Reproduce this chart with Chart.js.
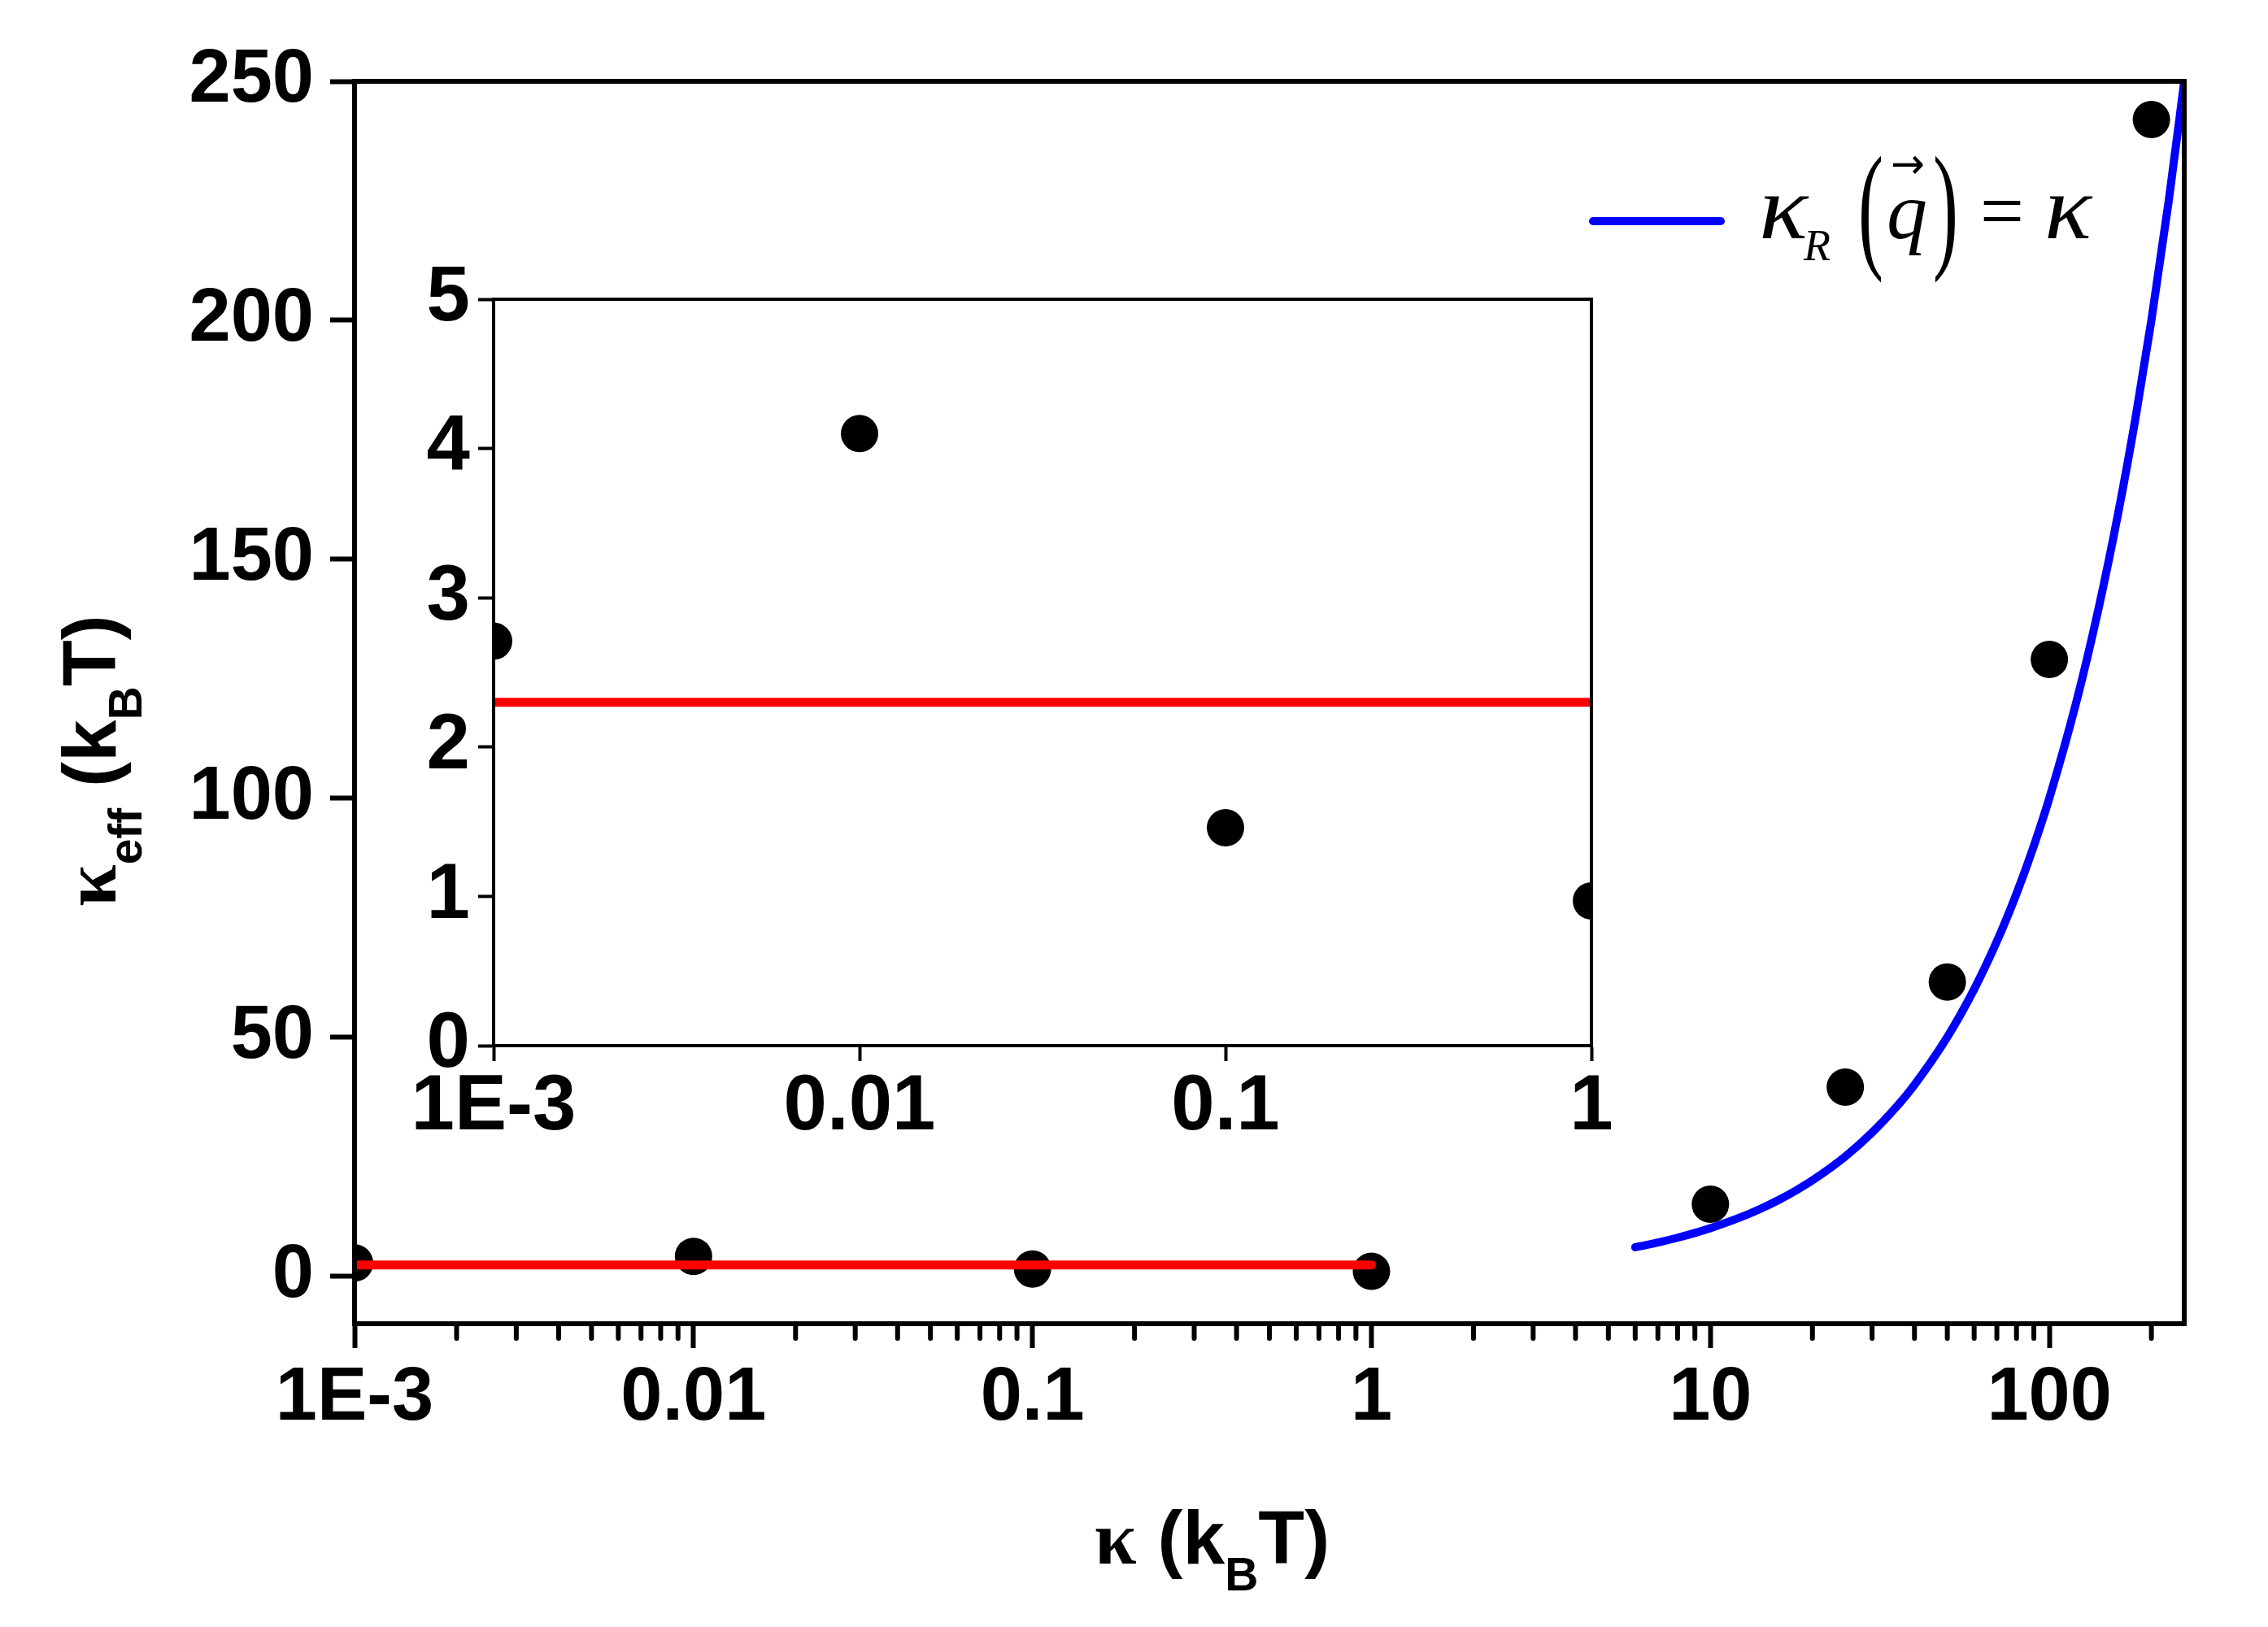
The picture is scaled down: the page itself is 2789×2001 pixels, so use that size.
<!DOCTYPE html>
<html>
<head>
<meta charset="utf-8">
<script src="https://cdn.jsdelivr.net/npm/chart.js@4.4.0/dist/chart.umd.min.js"></script>
<style>
  html, body { margin: 0; padding: 0; background: #fff; }
  #wrap { position: relative; width: 2789px; height: 2001px; }
  #mainChart { position: absolute; left: 0; top: 0; }
  #insetChart { position: absolute; left: 450px; top: 300px; }
</style>
</head>
<body>
<div id="wrap">
  <canvas id="mainChart" width="2789" height="2001"></canvas>
  <canvas id="insetChart" width="1560" height="1150"></canvas>
</div>
<script>
// values
const kappa = [0.001, 0.01, 0.1, 1, 10, 25, 50, 100, 200];
const kappaEff = [2.7, 4.1, 1.46, 0.97, 15, 39.5, 61.5, 129, 242];

// red flat line (mean value)
const flatX = [0.001, 1];
const flatY = [2.3, 2.3];

// blue curve kappa_R(q) = kappa
const curveX = [6, 7, 8, 9, 10, 12, 14, 16, 18, 20, 25, 30, 35, 40, 50, 60, 70, 80, 90, 100, 120, 140, 160, 180, 200, 225, 250];
const curveY = [6, 7, 8, 9, 10, 12, 14, 16, 18, 20, 25, 30, 35, 40, 50, 60, 70, 80, 90, 100, 120, 140, 160, 180, 200, 225, 250];

// inset (zoom on small kappa)
const insetKappa = [0.001, 0.01, 0.1, 1];
const insetKappaEff = [2.71, 4.10, 1.46, 0.97];

const xTicks = [0.001, 0.01, 0.1, 1, 10, 100];
const xTickLabels = ['1E-3', '0.01', '0.1', '1', '10', '100'];
const yTicks = [0, 50, 100, 150, 200, 250];
const insetXTicks = [0.001, 0.01, 0.1, 1];
const insetXTickLabels = ['1E-3', '0.01', '0.1', '1'];
const insetYTicks = [0, 1, 2, 3, 4, 5];

const SANS = '"Liberation Sans", Arial, sans-serif';
const SERIF = '"Liberation Serif", "Times New Roman", serif';
const tickFont = { family: SANS, size: 92, weight: 'bold' };
const insetTickFont = { family: SANS, size: 96, weight: 'bold' };

function pts(xs, ys) {
    return xs.map((x, i) => ({ x: x, y: ys[i] }));
}

function drawRuns(ctx, runs, x, y) {
    let cx = x;
    runs.forEach(r => {
        ctx.font = r.font;
        ctx.fillText(r.text, cx, y + (r.dy || 0));
        cx += ctx.measureText(r.text).width;
    });
}

// draw a glyph squeezed/stretched to a given width
function fitText(ctx, text, font, x, y, w) {
    ctx.font = font;
    const m = ctx.measureText(text).width;
    ctx.save();
    ctx.translate(x, y);
    ctx.scale(w / m, 1);
    ctx.fillText(text, 0, 0);
    ctx.restore();
}

// box around the plot area
const framePlugin = {
    id: 'frame',
    afterDraw(chart, args, opts) {
        const a = chart.chartArea;
        const ctx = chart.ctx;
        ctx.save();
        ctx.strokeStyle = '#000';
        ctx.lineWidth = opts.width || 6;
        ctx.strokeRect(a.left, a.top, a.right - a.left, a.bottom - a.top);
        ctx.restore();
    }
};

// minor log ticks under the main x axis
const minorTicks = {
    id: 'minorTicks',
    afterDraw(chart) {
        const xs = chart.scales.x;
        const ctx = chart.ctx;
        const y0 = chart.chartArea.bottom;
        ctx.save();
        ctx.strokeStyle = '#000';
        ctx.lineWidth = 6;
        ctx.lineCap = 'round';
        for (let d = 0.001; d < 250; d *= 10) {
            for (let k = 2; k <= 9; k++) {
                const v = k * d;
                if (v >= 250) break;
                const px = xs.getPixelForValue(v);
                ctx.beginPath();
                ctx.moveTo(px, y0);
                ctx.lineTo(px, y0 + 18);
                ctx.stroke();
            }
        }
        ctx.restore();
    }
};

// axis titles and legend
const annotations = {
    id: 'annotations',
    afterDraw(chart) {
        const ctx = chart.ctx;
        ctx.save();
        ctx.fillStyle = '#000';
        ctx.textAlign = 'left';
        ctx.textBaseline = 'alphabetic';

        // x title
        drawRuns(ctx, [
            { text: 'κ', font: `bold 93px ${SERIF}` },
            { text: ' (k', font: `bold 93px ${SANS}` },
            { text: 'B', font: `bold 57px ${SANS}`, dy: 33 },
            { text: 'T)', font: `bold 93px ${SANS}` }
        ], 1346, 1923);

        // y title
        ctx.save();
        ctx.translate(142, 1115);
        ctx.rotate(-Math.PI / 2);
        drawRuns(ctx, [
            { text: 'κ', font: `bold 93px ${SERIF}` },
            { text: 'eff', font: `bold 57px ${SANS}`, dy: 32 },
            { text: ' (k', font: `bold 93px ${SANS}` },
            { text: 'B', font: `bold 57px ${SANS}`, dy: 32 },
            { text: 'T)', font: `bold 93px ${SANS}` }
        ], 0, 0);
        ctx.restore();

        // legend sample
        ctx.strokeStyle = '#0000ff';
        ctx.lineWidth = 10;
        ctx.lineCap = 'round';
        ctx.beginPath();
        ctx.moveTo(1959, 272);
        ctx.lineTo(2116, 272);
        ctx.stroke();

        // legend formula
        fitText(ctx, 'κ', `italic 112px ${SERIF}`, 2163, 293, 60);
        ctx.font = `italic 54px ${SERIF}`;
        ctx.fillText('R', 2218, 320);

        fitText(ctx, '(', `172px ${SERIF}`, 2285, 311, 31);
        fitText(ctx, ')', `172px ${SERIF}`, 2377, 311, 31);

        ctx.font = `italic 100px ${SERIF}`;
        ctx.fillText('q', 2320, 293);

        ctx.save();
        ctx.textBaseline = 'middle';
        fitText(ctx, '→', `52px "DejaVu Sans", sans-serif`, 2325, 205, 42);
        ctx.restore();

        fitText(ctx, '=', `100px ${SERIF}`, 2435, 293, 54);
        fitText(ctx, 'κ', `italic 112px ${SERIF}`, 2514, 293, 58);

        ctx.restore();
    }
};

new Chart(document.getElementById('mainChart'), {
    type: 'scatter',
    data: {
        datasets: [
            {
                data: pts(flatX, flatY),
                showLine: true,
                borderColor: '#ff0000',
                borderWidth: 11,
                borderCapStyle: 'round',
                pointRadius: 0
            },
            {
                data: pts(curveX, curveY),
                showLine: true,
                borderColor: '#0000ff',
                borderWidth: 10,
                borderCapStyle: 'round',
                cubicInterpolationMode: 'monotone',
                pointRadius: 0
            },
            {
                data: pts(kappa, kappaEff),
                showLine: false,
                pointRadius: 23,
                pointBackgroundColor: '#000',
                pointBorderWidth: 0,
                clip: 0
            }
        ]
    },
    options: {
        responsive: false,
        animation: false,
        events: [],
        layout: { padding: { top: 100, right: 103, left: 0, bottom: 0 } },
        plugins: {
            legend: { display: false },
            tooltip: { enabled: false },
            frame: { width: 6 }
        },
        scales: {
            x: {
                type: 'logarithmic',
                min: 0.001,
                max: 250,
                afterBuildTicks: s => { s.ticks = xTicks.map(v => ({ value: v })); },
                afterFit: s => { s.height = 373; },
                ticks: {
                    callback: (v, i) => xTickLabels[i],
                    font: tickFont,
                    color: '#000',
                    padding: 7,
                    maxRotation: 0,
                    autoSkip: false
                },
                grid: { drawOnChartArea: false, drawTicks: true, tickLength: 30, tickWidth: 6, tickColor: '#000' },
                border: { display: true, color: '#000', width: 6 }
            },
            y: {
                type: 'linear',
                min: -10,
                max: 250,
                afterBuildTicks: s => { s.ticks = yTicks.map(v => ({ value: v })); },
                afterFit: s => { s.width = 436; },
                ticks: {
                    callback: v => String(v),
                    font: tickFont,
                    color: '#000',
                    padding: 20
                },
                grid: { drawOnChartArea: false, drawTicks: true, tickLength: 30, tickWidth: 6, tickColor: '#000' },
                border: { display: true, color: '#000', width: 6 }
            }
        }
    },
    plugins: [framePlugin, minorTicks, annotations]
});

new Chart(document.getElementById('insetChart'), {
    type: 'scatter',
    data: {
        datasets: [
            {
                data: pts(flatX, flatY),
                showLine: true,
                borderColor: '#ff0000',
                borderWidth: 11,
                pointRadius: 0
            },
            {
                data: pts(insetKappa, insetKappaEff),
                showLine: false,
                pointRadius: 23,
                pointBackgroundColor: '#000',
                pointBorderWidth: 0,
                clip: 0
            }
        ]
    },
    options: {
        responsive: false,
        animation: false,
        events: [],
        layout: { padding: { top: 68, right: 53, left: 0, bottom: 0 } },
        plugins: {
            legend: { display: false },
            tooltip: { enabled: false },
            frame: { width: 4 }
        },
        scales: {
            x: {
                type: 'logarithmic',
                min: 0.001,
                max: 1,
                afterBuildTicks: s => { s.ticks = insetXTicks.map(v => ({ value: v })); },
                afterFit: s => { s.height = 164; },
                ticks: {
                    callback: (v, i) => insetXTickLabels[i],
                    font: insetTickFont,
                    color: '#000',
                    padding: 0,
                    maxRotation: 0,
                    autoSkip: false
                },
                grid: { drawOnChartArea: false, drawTicks: true, tickLength: 19, tickWidth: 4, tickColor: '#000' },
                border: { display: true, color: '#000', width: 4 }
            },
            y: {
                type: 'linear',
                min: 0,
                max: 5,
                afterBuildTicks: s => { s.ticks = insetYTicks.map(v => ({ value: v })); },
                afterFit: s => { s.width = 157; },
                ticks: {
                    callback: v => String(v),
                    font: insetTickFont,
                    color: '#000',
                    padding: 10
                },
                grid: { drawOnChartArea: false, drawTicks: true, tickLength: 19, tickWidth: 4, tickColor: '#000' },
                border: { display: true, color: '#000', width: 4 }
            }
        }
    },
    plugins: [framePlugin]
});
</script>
</body>
</html>
